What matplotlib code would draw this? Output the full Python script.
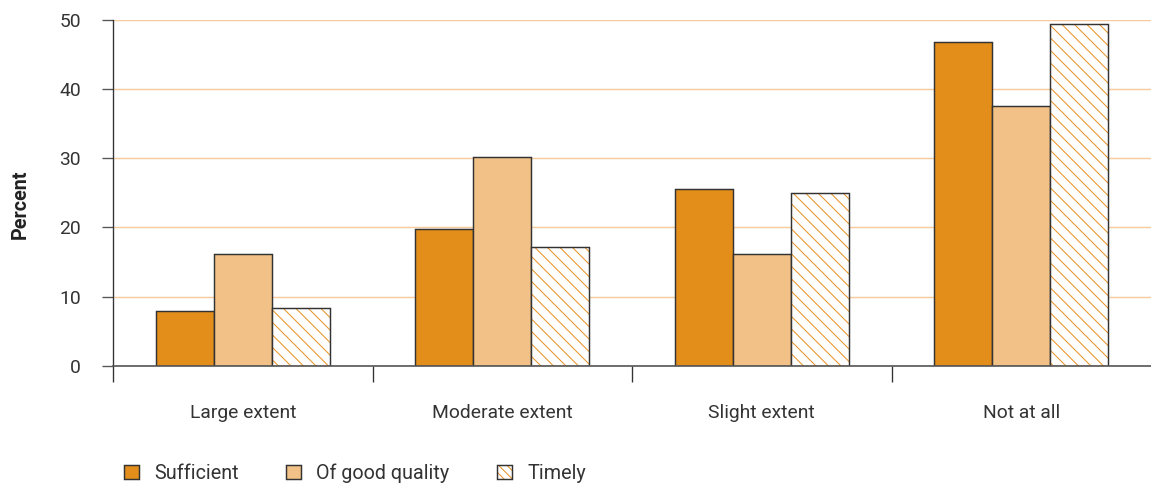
import matplotlib
matplotlib.use("Agg")
import matplotlib.pyplot as plt
from matplotlib.patches import Patch
import numpy as np

plt.rcParams['font.family'] = ['Liberation Sans Narrow', 'Roboto', 'DejaVu Sans']

# дані
categories = ["Large extent", "Moderate extent", "Slight extent", "Not at all"]
series_names = ["Sufficient", "Of good quality", "Timely"]
sufficient = [7.9, 19.8, 25.5, 46.8]
good_quality = [16.2, 30.1, 16.2, 37.5]
timely = [8.4, 17.2, 24.9, 49.4]
y_ticks = [0, 10, 20, 30, 40, 50]

c_dark = "#E38E1A"
c_light = "#F2C187"
c_hatch = "#E8952A"
c_edge = "#333333"
c_grid = "#F6CB9E"

DPI = 75
fig = plt.figure(figsize=(1151 / DPI, 486 / DPI), dpi=DPI)
ax = fig.add_axes([113 / 1151, 1 - 366 / 486, 1 - 113 / 1151, (366 - 19.5) / 486])

x = np.arange(len(categories))
w = 58 / 260
lw = 1.4

ax.bar(x - w, sufficient, w, color=c_dark, edgecolor=c_edge, linewidth=lw, zorder=3)
ax.bar(x, good_quality, w, color=c_light, edgecolor=c_edge, linewidth=lw, zorder=3)
# штрихування окремо, рамка окремо
ax.bar(x + w, timely, w, color="white", edgecolor=c_hatch, hatch="\\\\", linewidth=0, zorder=3)
ax.bar(x + w, timely, w, fill=False, edgecolor=c_edge, linewidth=lw, zorder=4)

ax.set_xlim(-0.5, 3.5)
ax.set_ylim(0, 50)
ax.set_yticks(y_ticks)
ax.set_yticklabels([str(t) for t in y_ticks])
ax.yaxis.grid(True, color=c_grid, linewidth=1.4, zorder=0)
ax.set_axisbelow(True)

ax.set_xticks(x)
ax.set_xticklabels(categories)
ax.set_xticks(np.arange(-0.5, 3.0, 1.0), minor=True)
ax.tick_params(axis="x", which="major", length=0, pad=36, labelsize=18.5, labelcolor="#333333")
ax.tick_params(axis="x", which="minor", length=15.5, width=1.3, color=c_edge, direction="out")
ax.tick_params(axis="y", length=10.5, width=1.3, color="#555555", pad=20, labelsize=18.5, labelcolor="#333333")

for s in ["top", "right"]:
    ax.spines[s].set_visible(False)
ax.spines["left"].set_color(c_edge)
ax.spines["left"].set_linewidth(1.3)
ax.spines["bottom"].set_color("#555555")
ax.spines["bottom"].set_linewidth(1.6)
ax.spines["bottom"].set_zorder(5)

fig.text(20 / 1151, 1 - 204 / 486, "Percent", rotation=90, ha="center", va="center",
         fontsize=19, fontweight="bold", color="#222222")

h_timely = (Patch(facecolor="white", edgecolor=c_hatch, hatch="\\\\\\", linewidth=0),
            Patch(fill=False, edgecolor=c_edge, linewidth=lw))
handles = [Patch(facecolor=c_dark, edgecolor=c_edge, linewidth=lw),
           Patch(facecolor=c_light, edgecolor=c_edge, linewidth=lw),
           h_timely]
fig.legend(handles, series_names, loc="center left", bbox_to_anchor=(124 / 1151, 1 - 473 / 486),
           ncol=3, frameon=False, fontsize=19, handlelength=0.76, handleheight=0.76,
           handletextpad=0.76, columnspacing=2.4, borderpad=0, borderaxespad=0,
           labelcolor="#333333")

fig.savefig("out.png", dpi=DPI)
